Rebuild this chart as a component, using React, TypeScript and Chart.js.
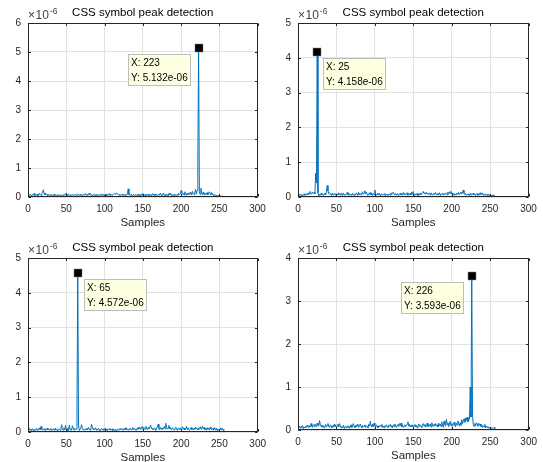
import React, { useEffect, useRef } from 'react';
import { Chart, registerables } from 'chart.js';

Chart.register(...registerables);

const TITLE = 'CSS symbol peak detection';
const X_LABEL = 'Samples';
const X_TICKS = [0, 50, 100, 150, 200, 250, 300];
const Y_MAXES = [6, 5, 5, 4];
const PEAK_INDEX = [223, 25, 65, 226];
const TIP_SIDE = ['left', 'right', 'right', 'left'];

// Signal magnitudes in units of 1e-8 (hundredths of the 1e-6 axis unit), samples 1..256
const SIG1 = [
  8, 5, 10, 6, 4, 9, 7, 12, 5, 8,
  6, 10, 4, 7, 13, 8, 5, 11, 16, 25,
  12, 7, 14, 9, 5, 10, 6, 8, 4, 9,
  7, 3, 6, 10, 5, 8, 4, 7, 9, 5,
  6, 3, 8, 5, 7, 4, 9, 6, 11, 14,
  8, 5, 10, 7, 4, 8, 6, 9, 5, 7,
  10, 6, 4, 8, 11, 7, 5, 9, 6, 8,
  4, 7, 10, 6, 12, 8, 5, 9, 7, 13,
  9, 5, 8, 4, 7, 10, 6, 3, 8, 5,
  9, 6, 4, 7, 11, 5, 8, 6, 10, 4,
  7, 9, 5, 8, 6, 11, 7, 4, 9, 6,
  8, 10, 12, 9, 13, 14, 11, 8, 6, 9,
  5, 7, 10, 6, 4, 8, 5, 9, 6, 11,
  28, 8, 5, 7, 10, 4, 6, 9, 5, 8,
  7, 3, 6, 10, 5, 8, 4, 9, 6, 12,
  7, 5, 9, 4, 8, 6, 10, 5, 7, 9,
  4, 8, 12, 6, 9, 5, 11, 7, 4, 8,
  10, 6, 13, 8, 5, 9, 14, 7, 4, 10,
  6, 8, 5, 12, 7, 14, 6, 9, 5, 8,
  4, 10, 7, 5, 9, 6, 12, 8, 11, 22,
  15, 9, 13, 7, 18, 10, 6, 12, 8, 14,
  9, 16, 11, 7, 19, 12, 8, 15, 26, 10,
  22, 125, 513.2, 18, 9, 30, 14, 8, 16, 10,
  6, 12, 9, 15, 7, 11, 18, 13, 8, 15,
  10, 6, 9, 5, 7, 4, 6, 3, 5, 4,
  3, 4, 2, 3, 2, 3,
];

const SIG2 = [
  10, 5, 8, 4, 7, 3, 6, 9, 5, 8,
  6, 10, 7, 12, 8, 16, 9, 11, 14, 10,
  13, 9, 68, 40, 415.8, 12, 3, 8, 5, 10,
  6, 9, 4, 7, 11, 6, 14, 33, 18, 10,
  12, 7, 9, 5, 11, 6, 8, 10, 5, 7,
  9, 6, 12, 8, 5, 10, 7, 4, 11, 6,
  8, 5, 9, 13, 7, 4, 10, 6, 8, 5,
  11, 7, 4, 9, 6, 12, 8, 5, 13, 7,
  10, 6, 9, 15, 8, 12, 18, 9, 14, 7,
  5, 10, 8, 13, 6, 9, 4, 11, 7, 20,
  9, 5, 8, 11, 6, 10, 4, 7, 9, 5,
  8, 6, 10, 4, 7, 5, 9, 6, 8, 5,
  12, 7, 11, 14, 8, 6, 10, 5, 9, 7,
  4, 8, 11, 6, 9, 5, 13, 7, 10, 6,
  8, 12, 5, 9, 7, 11, 6, 14, 8, 16,
  7, 5, 9, 6, 10, 4, 8, 6, 11, 7,
  9, 13, 16, 10, 12, 8, 14, 9, 11, 7,
  10, 6, 12, 8, 5, 9, 11, 7, 13, 8,
  6, 10, 7, 12, 5, 9, 8, 11, 6, 10,
  7, 12, 9, 6, 14, 8, 15, 10, 16, 9,
  12, 7, 10, 5, 9, 6, 11, 8, 13, 7,
  10, 14, 9, 12, 20, 11, 7, 10, 5, 8,
  6, 9, 4, 10, 7, 5, 8, 11, 6, 9,
  4, 7, 10, 5, 8, 6, 12, 7, 9, 11,
  5, 8, 6, 9, 4, 7, 5, 8, 3, 6,
  4, 5, 3, 6, 4, 5,
];

const SIG3 = [
  6, 10, 4, 8, 5, 9, 7, 3, 8, 6,
  10, 5, 9, 7, 12, 6, 16, 8, 5, 9,
  6, 10, 4, 8, 11, 6, 9, 5, 7, 10,
  4, 8, 6, 9, 5, 11, 7, 4, 9, 6,
  8, 5, 10, 21, 7, 5, 12, 6, 19, 8,
  10, 4, 7, 20, 6, 9, 5, 18, 11, 7,
  5, 9, 8, 70, 457.2, 20, 4, 9, 12, 21,
  10, 6, 8, 5, 9, 7, 11, 6, 13, 8,
  5, 9, 22, 14, 7, 10, 6, 12, 8, 5,
  9, 11, 7, 4, 8, 10, 6, 9, 5, 7,
  11, 6, 9, 4, 8, 7, 10, 5, 6, 9,
  4, 7, 5, 8, 3, 6, 9, 5, 7, 10,
  6, 11, 8, 5, 9, 7, 12, 6, 10, 8,
  5, 9, 7, 11, 6, 8, 13, 7, 10, 6,
  9, 5, 12, 8, 14, 10, 7, 11, 15, 9,
  6, 12, 8, 16, 10, 7, 13, 9, 11, 20,
  14, 8, 10, 6, 12, 9, 5, 11, 15, 22,
  10, 6, 13, 8, 12, 7, 10, 16, 9, 25,
  14, 8, 11, 19, 9, 13, 7, 10, 12, 8,
  6, 10, 14, 8, 5, 11, 9, 7, 12, 6,
  9, 15, 8, 11, 6, 10, 16, 8, 12, 7,
  5, 9, 13, 7, 10, 6, 11, 8, 14, 9,
  7, 12, 6, 10, 15, 8, 11, 17, 9, 13,
  7, 10, 5, 12, 8, 11, 6, 14, 9, 7,
  10, 5, 12, 8, 6, 11, 4, 9, 7, 5,
  8, 12, 6, 10, 4, 9,
];

const SIG4 = [
  5, 9, 4, 8, 6, 10, 3, 7, 5, 9,
  6, 11, 8, 5, 10, 7, 15, 9, 6, 12,
  8, 14, 10, 7, 16, 11, 9, 22, 13, 8,
  12, 6, 10, 5, 9, 13, 7, 11, 15, 8,
  6, 12, 9, 5, 10, 7, 13, 8, 11, 6,
  9, 14, 7, 15, 10, 5, 8, 6, 11, 4,
  7, 9, 5, 8, 6, 10, 4, 7, 12, 6,
  9, 15, 8, 5, 11, 7, 13, 9, 6, 10,
  14, 8, 5, 11, 7, 9, 12, 6, 10, 8,
  5, 13, 9, 20, 11, 7, 14, 8, 16, 10,
  6, 12, 9, 5, 10, 7, 11, 8, 13, 6,
  9, 5, 10, 7, 12, 8, 6, 11, 9, 13,
  7, 10, 5, 12, 8, 14, 9, 6, 11, 13,
  8, 15, 10, 16, 7, 11, 6, 9, 12, 8,
  10, 14, 19, 9, 13, 7, 11, 8, 12, 6,
  9, 13, 7, 11, 5, 10, 14, 8, 12, 9,
  6, 11, 15, 9, 13, 7, 10, 16, 8, 12,
  9, 14, 7, 17, 11, 8, 13, 10, 15, 9,
  12, 7, 16, 10, 14, 8, 19, 11, 6, 21,
  13, 9, 25, 12, 17, 8, 14, 20, 10, 15,
  9, 13, 18, 11, 7, 16, 12, 21, 14, 9,
  17, 11, 24, 15, 20, 26, 18, 28, 22, 30,
  19, 27, 25, 100, 30, 359.3, 35, 12, 8, 15,
  10, 17, 13, 9, 16, 11, 14, 8, 12, 6,
  10, 7, 13, 5, 9, 6, 8, 4, 7, 5,
  6, 3, 5, 4, 6, 3,
];

const SIGNALS = [SIG1, SIG2, SIG3, SIG4];

// Layout of each subplot (canvas placement and plot-area box in canvas px)
const PANELS = [
  { left: 0, top: 0, w: 272, h: 231, l: 28, r: 257.5, t: 23, b: 197 },
  { left: 271, top: 0, w: 272, h: 231, l: 27, r: 257.5, t: 23, b: 197 },
  { left: 0, top: 231, w: 272, h: 235, l: 28, r: 258, t: 27, b: 201 },
  { left: 271, top: 231, w: 272, h: 233, l: 27, r: 258, t: 27, b: 199 },
];

const FONT = '"Liberation Sans", Arial, Helvetica, sans-serif';
const AXIS_COLOR = '#262626';
const GRID_COLOR = '#e1e1e1';
const LINE_COLOR = 'rgb(0,114,189)';
const X_AXIS_H = 34;

const matlabPlugin = {
  id: 'matlab',
  afterDatasetsDraw(chart: any, _args: any, opts: any) {
    const { ctx, chartArea: a, scales } = chart;
    const x = scales.x;
    const y = scales.y;
    ctx.save();
    // box
    const L = Math.round(a.left) + 0.5;
    const R = Math.round(a.right) - 0.5;
    const T = Math.round(a.top) + 0.5;
    const B = Math.round(a.bottom) - 0.5;
    ctx.strokeStyle = AXIS_COLOR;
    ctx.lineWidth = 1;
    ctx.strokeRect(L, T, R - L, B - T);
    // inward tick marks
    const tl = 2.5;
    ctx.beginPath();
    X_TICKS.forEach((v) => {
      const px = Math.round(x.getPixelForValue(v)) + 0.5;
      ctx.moveTo(px, B);
      ctx.lineTo(px, B - tl);
      ctx.moveTo(px, T);
      ctx.lineTo(px, T + tl);
    });
    for (let v = 0; v <= opts.yMax; v++) {
      const py = Math.round(y.getPixelForValue(v)) + 0.5;
      ctx.moveTo(L, py);
      ctx.lineTo(L + tl, py);
      ctx.moveTo(R, py);
      ctx.lineTo(R - tl, py);
    }
    ctx.stroke();

    // title
    ctx.fillStyle = '#000';
    ctx.font = `11.5px ${FONT}`;
    ctx.textAlign = 'center';
    ctx.textBaseline = 'middle';
    ctx.fillText(TITLE, (a.left + a.right) / 2, a.top - 10);

    // exponent label
    ctx.fillStyle = '#404040';
    ctx.textAlign = 'left';
    ctx.font = `12px ${FONT}`;
    ctx.fillText('×', a.left, a.top - 7.5);
    const wx = ctx.measureText('×').width;
    ctx.fillText('10', a.left + wx + 0.5, a.top - 7.5);
    const w10 = ctx.measureText('10').width;
    ctx.font = `8.5px ${FONT}`;
    ctx.fillText('-6', a.left + wx + w10 + 1.5, a.top - 11.5);

    // datatip
    const idx = opts.peak;
    const val = opts.data[idx - 1] / 100;
    const px = x.getPixelForValue(idx);
    const py = y.getPixelForValue(val);
    const l1 = `X: ${idx}`;
    const l2 = `Y: ${val.toFixed(3)}e-06`;
    ctx.font = `10px ${FONT}`;
    const tw = Math.max(ctx.measureText(l1).width, ctx.measureText(l2).width);
    const bw = Math.round(tw + 6);
    const bh = 32;
    const bx = Math.round(opts.side === 'right' ? px + 6 : px - 8 - bw);
    const by = Math.round(py + 6);
    ctx.fillStyle = 'rgb(255,255,225)';
    ctx.fillRect(bx, by, bw, bh);
    ctx.strokeStyle = '#bdbdbd';
    ctx.lineWidth = 1;
    ctx.strokeRect(bx + 0.5, by + 0.5, bw - 1, bh - 1);
    ctx.fillStyle = '#000';
    ctx.textBaseline = 'middle';
    ctx.fillText(l1, bx + 3, by + 9.5);
    ctx.fillText(l2, bx + 3, by + 24);
    // marker
    ctx.fillStyle = '#000';
    ctx.fillRect(Math.round(px) - 4, Math.round(py) - 4, 8, 8);
    ctx.strokeStyle = '#808080';
    ctx.lineWidth = 0.5;
    ctx.strokeRect(Math.round(px) - 4, Math.round(py) - 4, 8, 8);
    ctx.restore();
  },
};

function Panel({ i }: { i: number }) {
  const ref = useRef<HTMLCanvasElement | null>(null);
  const p = PANELS[i];
  useEffect(() => {
    if (!ref.current) return;
    const sig = SIGNALS[i];
    const points = sig.map((v, k) => ({ x: k + 1, y: v / 100 }));
    const chart = new Chart(ref.current, {
      type: 'line',
      data: {
        datasets: [
          {
            data: points,
            borderColor: LINE_COLOR,
            borderWidth: 1,
            pointRadius: 0,
            tension: 0,
            fill: false,
          },
        ],
      },
      options: {
        responsive: false,
        animation: false,
        devicePixelRatio: 1,
        events: [],
        layout: {
          padding: {
            left: 0,
            right: p.w - p.r,
            top: p.t,
            bottom: p.h - p.b - X_AXIS_H,
          },
        },
        plugins: {
          legend: { display: false },
          tooltip: { enabled: false },
          title: { display: false },
          matlab: { yMax: Y_MAXES[i], peak: PEAK_INDEX[i], side: TIP_SIDE[i], data: sig },
        } as any,
        scales: {
          x: {
            type: 'linear',
            min: 0,
            max: 300,
            afterBuildTicks: (s: any) => {
              s.ticks = X_TICKS.map((v) => ({ value: v }));
            },
            afterFit: (s: any) => {
              s.height = X_AXIS_H;
            },
            ticks: {
              color: AXIS_COLOR,
              font: { family: FONT, size: 10 },
              padding: 6,
              maxRotation: 0,
              autoSkip: false,
            },
            grid: { color: GRID_COLOR, drawTicks: false, lineWidth: 1 },
            border: { display: false },
            title: {
              display: true,
              text: X_LABEL,
              color: AXIS_COLOR,
              font: { family: FONT, size: 11.5 },
              padding: { top: 0, bottom: 1.6 },
            },
          },
          y: {
            type: 'linear',
            min: 0,
            max: Y_MAXES[i],
            ticks: {
              stepSize: 1,
              color: AXIS_COLOR,
              font: { family: FONT, size: 10 },
              padding: 7,
            },
            afterFit: (s: any) => {
              s.width = p.l;
            },
            grid: { color: GRID_COLOR, drawTicks: false, lineWidth: 1 },
            border: { display: false },
          },
        },
      },
      plugins: [matlabPlugin as any],
    });
    return () => chart.destroy();
  }, [i]);
  return (
    <canvas
      ref={ref}
      width={p.w}
      height={p.h}
      style={{ position: 'absolute', left: p.left, top: p.top, width: p.w, height: p.h }}
    />
  );
}

export default function App() {
  return (
    <div
      style={{
        position: 'absolute',
        left: 0,
        top: 0,
        width: 543,
        height: 462,
        overflow: 'hidden',
        background: '#fff',
      }}
    >
      {[0, 1, 2, 3].map((i) => (
        <Panel key={i} i={i} />
      ))}
    </div>
  );
}
